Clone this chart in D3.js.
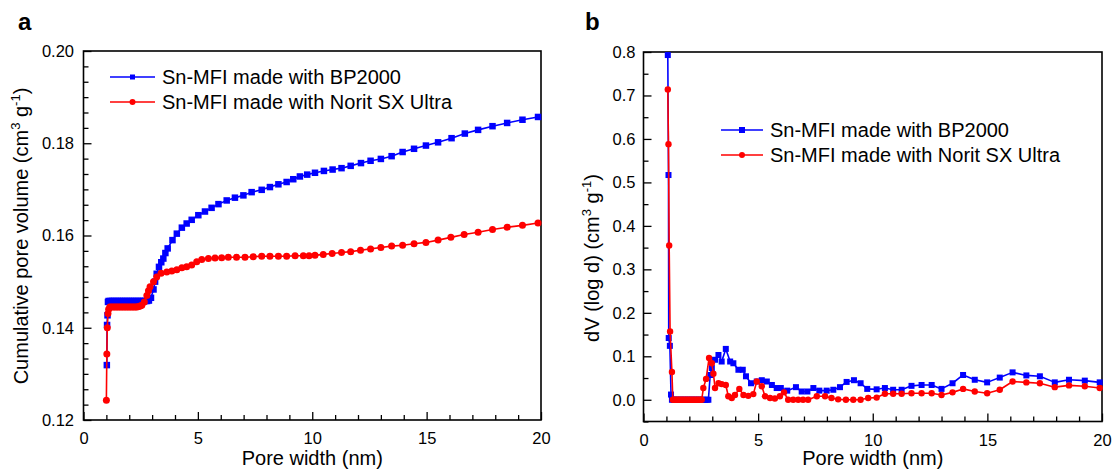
<!DOCTYPE html>
<html>
<head>
<meta charset="utf-8">
<script src="https://cdn.jsdelivr.net/npm/d3@7"></script>
<style>
  html, body { margin: 0; padding: 0; background: #fff; }
  svg { display: block; font-family: "Liberation Sans", Arial, sans-serif; }
</style>
</head>
<body>
<svg id="chart" width="1114" height="469"></svg>
<script>
// ---- Series labels ----
const seriesNames = ["Sn-MFI made with BP2000", "Sn-MFI made with Norit SX Ultra"];
const seriesColors = ["#0000ff", "#ff0000"];

// ---- Panel a: cumulative pore volume (cm3 g-1) vs pore width (nm) ----
const cumBP2000 = [
  [1.02,0.1319],[1.03,0.1406],[1.05,0.1427],[1.07,0.1456],[1.10,0.1458],
  [1.18,0.1458],[1.26,0.1458],[1.34,0.1458],[1.42,0.1458],[1.50,0.1458],
  [1.58,0.1458],[1.66,0.1458],[1.74,0.1458],[1.82,0.1458],[1.90,0.1458],
  [1.98,0.1458],[2.06,0.1458],[2.14,0.1458],[2.22,0.1458],[2.30,0.1458],
  [2.38,0.1458],[2.46,0.1458],[2.54,0.1458],[2.62,0.1458],[2.70,0.1458],
  [2.78,0.1458],[2.86,0.1459],[2.95,0.1465],[3.06,0.1483],[3.13,0.1500],
  [3.20,0.1517],[3.30,0.1532],[3.40,0.1542],[3.49,0.1550],[3.58,0.1562],
  [3.68,0.1572],[3.89,0.1590],[4.08,0.1604],[4.30,0.1617],[4.51,0.1626],
  [4.73,0.1634],[5.02,0.1644],[5.31,0.1652],[5.60,0.1660],[5.90,0.1668],
  [6.26,0.1676],[6.62,0.1682],[6.99,0.1687],[7.35,0.1694],[7.79,0.1699],
  [8.15,0.1705],[8.52,0.1711],[8.88,0.1716],[9.17,0.1722],[9.46,0.1728],
  [9.78,0.1732],[10.12,0.1736],[10.51,0.1740],[10.89,0.1743],[11.28,0.1746],
  [11.68,0.1751],[12.13,0.1757],[12.55,0.1762],[13.00,0.1766],[13.47,0.1772],
  [13.95,0.1781],[14.45,0.1788],[14.97,0.1795],[15.50,0.1802],[16.09,0.1811],
  [16.67,0.1821],[17.25,0.1829],[17.88,0.1837],[18.52,0.1844],[19.19,0.1851],
  [19.87,0.1857]
];
const cumNorit = [
  [1.00,0.1243],[1.02,0.1343],[1.04,0.1400],[1.07,0.1431],[1.10,0.1440],
  [1.15,0.1445],[1.22,0.1445],[1.29,0.1445],[1.36,0.1445],[1.43,0.1445],
  [1.50,0.1445],[1.57,0.1445],[1.64,0.1445],[1.71,0.1445],[1.78,0.1445],
  [1.85,0.1445],[1.92,0.1445],[1.99,0.1445],[2.06,0.1445],[2.13,0.1445],
  [2.20,0.1445],[2.27,0.1445],[2.34,0.1445],[2.41,0.1446],[2.48,0.1447],
  [2.55,0.1449],[2.66,0.1456],[2.77,0.1470],[2.84,0.1480],[2.91,0.1489],
  [3.06,0.1500],[3.20,0.1510],[3.39,0.1518],[3.64,0.1521],[3.86,0.1523],
  [4.08,0.1526],[4.30,0.1530],[4.51,0.1532],[4.73,0.1536],[4.95,0.1543],
  [5.17,0.1548],[5.46,0.1550],[5.75,0.1551],[6.04,0.1552],[6.33,0.1553],
  [6.69,0.1553],[7.06,0.1553],[7.42,0.1554],[7.79,0.1555],[8.15,0.1555],
  [8.52,0.1555],[8.88,0.1555],[9.25,0.1556],[9.61,0.1556],[9.86,0.1556],
  [10.12,0.1557],[10.48,0.1559],[10.87,0.1561],[11.28,0.1563],[11.68,0.1565],
  [12.11,0.1568],[12.55,0.1571],[13.00,0.1574],[13.47,0.1577],[13.95,0.1579],
  [14.45,0.1582],[14.97,0.1585],[15.50,0.1590],[16.06,0.1596],[16.64,0.1602],
  [17.25,0.1607],[17.88,0.1613],[18.52,0.1618],[19.19,0.1622],[19.87,0.1627]
];

// ---- Panel b: dV/(log d) (cm3 g-1) vs pore width (nm) ----
const psdBP2000 = [
  [1.06,0.793],[1.09,0.517],[1.10,0.142],[1.15,0.124],[1.20,0.012],
  [1.24,0],[1.32,0],[1.40,0],[1.48,0],[1.56,0],[1.64,0],[1.72,0],[1.80,0],
  [1.88,0],[1.96,0],[2.04,0],[2.12,0],[2.20,0],[2.28,0],[2.36,0],[2.44,0],
  [2.52,0],[2.60,0],[2.68,0],[2.76,0],[2.83,0],
  [2.91,0.057],[2.98,0.073],[3.12,0.092],[3.27,0.103],[3.41,0.088],
  [3.59,0.117],[3.78,0.088],[3.92,0.084],[4.14,0.069],[4.33,0.069],
  [4.47,0.054],[4.69,0.038],[4.94,0.042],[5.16,0.045],[5.38,0.042],
  [5.60,0.034],[5.81,0.027],[5.99,0.027],[6.27,0.021],[6.65,0.029],
  [6.90,0.019],[7.15,0.019],[7.41,0.027],[7.67,0.021],[7.99,0.021],
  [8.28,0.023],[8.57,0.029],[8.86,0.041],[9.18,0.045],[9.47,0.038],
  [9.76,0.025],[10.17,0.024],[10.53,0.027],[10.89,0.023],[11.26,0.023],
  [11.69,0.032],[12.13,0.034],[12.57,0.034],[13.00,0.025],[13.48,0.038],
  [13.94,0.057],[14.45,0.046],[14.99,0.040],[15.54,0.051],[16.10,0.063],
  [16.70,0.056],[17.29,0.054],[17.94,0.040],[18.56,0.046],[19.25,0.044],
  [19.90,0.040]
];
const psdNorit = [
  [1.06,0.714],[1.09,0.588],[1.12,0.355],[1.16,0.157],[1.24,0.064],
  [1.28,0],[1.34,0],[1.40,0],[1.46,0],[1.52,0],[1.58,0],[1.64,0],[1.70,0],
  [1.76,0],[1.82,0],[1.88,0],[1.94,0],[2.00,0],[2.06,0],[2.12,0],[2.18,0],
  [2.24,0],[2.30,0],[2.36,0],[2.42,0],[2.48,0],[2.54,0],
  [2.61,0.027],[2.73,0.048],[2.86,0.096],[2.98,0.084],[3.05,0.060],
  [3.12,0.027],[3.27,0.038],[3.41,0.036],[3.59,0.034],[3.70,0.008],
  [3.85,0.004],[3.99,0.011],[4.18,0.025],[4.36,0.011],[4.57,0.009],
  [4.79,0.013],[4.94,0.042],[5.16,0.031],[5.30,0.008],[5.52,0.004],
  [5.73,0.003],[5.95,0.008],[6.13,0.017],[6.31,0],[6.53,0],[6.75,0],
  [6.96,0],[7.18,0],[7.56,0.008],[7.92,0.008],[8.20,0.004],[8.49,0.001],
  [8.83,0],[9.15,0],[9.47,0],[9.80,0.004],[10.17,0.005],[10.53,0.014],
  [10.89,0.014],[11.26,0.014],[11.69,0.015],[12.13,0.015],[12.57,0.015],
  [13.00,0.011],[13.48,0.017],[13.94,0.025],[14.45,0.019],[14.99,0.015],
  [15.54,0.023],[16.10,0.042],[16.70,0.040],[17.29,0.038],[17.94,0.029],
  [18.56,0.033],[19.25,0.031],[19.90,0.027]
];

// ---- Tick values ----
const xTicks = [0, 5, 10, 15, 20];
const xMinorTicks = [1, 2, 3, 4, 6, 7, 8, 9, 11, 12, 13, 14, 16, 17, 18, 19];
const yTicksA = [0.12, 0.14, 0.16, 0.18, 0.20];
const yMinorStepsA = 6;          // minor divisions between labelled volume ticks
const yTicksB = [0.0, 0.1, 0.2, 0.3, 0.4, 0.5, 0.6, 0.7, 0.8];
const yMinorTicksB = [-0.05, 0.05, 0.15, 0.25, 0.35, 0.45, 0.55, 0.65, 0.75];

const svg = d3.select("#chart");
svg.append("rect").attr("width", 1114).attr("height", 469).attr("fill", "#fff");

const FONT = '"Liberation Sans", Arial, sans-serif';
const TICK_FONT = 16.5;

function drawPanel(cfg) {
  const g = svg.append("g");
  const x = d3.scaleLinear().domain([0, 20]).range([cfg.left, cfg.right]);
  const y = d3.scaleLinear().domain(cfg.yDomain).range([cfg.bottom, cfg.top]);

  const clipId = "clip-" + cfg.id;
  g.append("clipPath").attr("id", clipId)
    .append("rect")
    .attr("x", cfg.left - 6).attr("y", cfg.top - 6)
    .attr("width", cfg.right - cfg.left + 12).attr("height", cfg.bottom - cfg.top + 12);

  // Bottom axis (ticks pointing into the plot)
  const xAxis = d3.axisBottom(x).tickValues(xTicks).tickSize(-8).tickPadding(12.5).tickFormat(d3.format("d"));
  g.append("g").attr("transform", `translate(0,${cfg.bottom})`).call(xAxis);
  const xMinor = d3.axisBottom(x).tickValues(xMinorTicks).tickSize(-5).tickFormat("");
  g.append("g").attr("transform", `translate(0,${cfg.bottom})`).call(xMinor);

  // Left axis
  const yAxis = d3.axisLeft(y).tickValues(cfg.yTicks).tickSize(-8).tickPadding(cfg.yPad).tickFormat(d3.format(cfg.yFormat));
  g.append("g").attr("transform", `translate(${cfg.left},0)`).call(yAxis);
  const yMinor = d3.axisLeft(y).tickValues(cfg.yMinor).tickSize(-5).tickFormat("");
  g.append("g").attr("transform", `translate(${cfg.left},0)`).call(yMinor);

  g.selectAll(".domain").remove();
  g.selectAll(".tick line").attr("stroke", "#000").attr("stroke-width", 1.3);
  g.selectAll(".tick text").attr("font-family", FONT).attr("font-size", TICK_FONT).attr("fill", "#000");

  // Frame
  g.append("rect")
    .attr("x", cfg.left).attr("y", cfg.top)
    .attr("width", cfg.right - cfg.left).attr("height", cfg.bottom - cfg.top)
    .attr("fill", "none").attr("stroke", "#000").attr("stroke-width", 1.6);

  // Series
  const line = d3.line().x(d => x(d[0])).y(d => y(d[1]));
  const plot = g.append("g").attr("clip-path", `url(#${clipId})`);
  cfg.series.forEach((s, i) => {
    const col = seriesColors[i];
    plot.append("path").datum(s).attr("d", line)
      .attr("fill", "none").attr("stroke", col).attr("stroke-width", 1.6)
      .attr("stroke-linejoin", "round");
    if (i === 0) {
      plot.selectAll(null).data(s).enter().append("rect")
        .attr("x", d => x(d[0]) - cfg.sq / 2).attr("y", d => y(d[1]) - cfg.sq / 2)
        .attr("width", cfg.sq).attr("height", cfg.sq).attr("fill", col);
    } else {
      plot.selectAll(null).data(s).enter().append("circle")
        .attr("cx", d => x(d[0])).attr("cy", d => y(d[1]))
        .attr("r", cfg.r).attr("fill", col);
    }
  });

  // Legend
  seriesNames.forEach((name, i) => {
    const ly = cfg.legendY + i * cfg.legendGap;
    const col = seriesColors[i];
    g.append("line").attr("x1", cfg.legendX).attr("x2", cfg.legendX + cfg.legendLen)
      .attr("y1", ly).attr("y2", ly).attr("stroke", col).attr("stroke-width", 1.6);
    const mx = cfg.legendX + cfg.legendLen / 2;
    if (i === 0) {
      g.append("rect").attr("x", mx - cfg.legSq / 2).attr("y", ly - cfg.legSq / 2)
        .attr("width", cfg.legSq).attr("height", cfg.legSq).attr("fill", col);
    } else {
      g.append("circle").attr("cx", mx).attr("cy", ly).attr("r", cfg.legR).attr("fill", col);
    }
    g.append("text").attr("x", cfg.legendX + cfg.legendLen + 7).attr("y", ly + 7)
      .attr("font-family", FONT).attr("font-size", 20).attr("fill", "#000").text(name);
  });

  // X title
  g.append("text").attr("x", (cfg.left + cfg.right) / 2).attr("y", 464.5)
    .attr("text-anchor", "middle").attr("font-family", FONT).attr("font-size", 20)
    .text("Pore width (nm)");

  // Y title with superscripts
  const yt = g.append("text")
    .attr("transform", `translate(${cfg.yTitleX},${cfg.yTitleY}) rotate(-90)`)
    .attr("text-anchor", "middle").attr("font-family", FONT).attr("font-size", 20).attr("fill", "#000");
  yt.append("tspan").text(cfg.yTitle + " (cm");
  yt.append("tspan").attr("font-size", 13).attr("dy", -8).text("3");
  yt.append("tspan").attr("dy", 8).text(" g");
  yt.append("tspan").attr("font-size", 13).attr("dy", -8).text("-1");
  yt.append("tspan").attr("dy", 8).text(")");

  // Panel letter
  g.append("text").attr("x", cfg.letterX).attr("y", 30)
    .attr("font-family", FONT).attr("font-size", 24).attr("font-weight", "bold").text(cfg.letter);
}

// Minor volume ticks between the labelled ones
const yMinorTicksA = [];
for (let k = 0; k < yTicksA.length - 1; k++) {
  for (let j = 1; j < yMinorStepsA; j++) {
    yMinorTicksA.push(yTicksA[k] + (yTicksA[k + 1] - yTicksA[k]) * j / yMinorStepsA);
  }
}

drawPanel({
  id: "a", letter: "a", letterX: 18,
  left: 83.5, right: 541, top: 51, bottom: 420,
  yDomain: [0.12, 0.20], yTicks: yTicksA, yMinor: yMinorTicksA, yFormat: ".2f", yPad: 9.5,
  series: [cumBP2000, cumNorit], sq: 6.5, r: 3.5,
  legendX: 110, legendLen: 45, legendY: 77, legendGap: 25, legSq: 5, legR: 3,
  yTitle: "Cumulative pore volume", yTitleX: 28, yTitleY: 236
});

drawPanel({
  id: "b", letter: "b", letterX: 585,
  left: 643.5, right: 1102, top: 52, bottom: 421.5,
  yDomain: [-0.05, 0.8], yTicks: yTicksB, yMinor: yMinorTicksB, yFormat: ".1f", yPad: 8,
  series: [psdBP2000, psdNorit], sq: 6, r: 3.2,
  legendX: 721, legendLen: 42, legendY: 130, legendGap: 25, legSq: 6, legR: 3,
  yTitle: "dV (log d)", yTitleX: 599, yTitleY: 258
});
</script>
</body>
</html>
